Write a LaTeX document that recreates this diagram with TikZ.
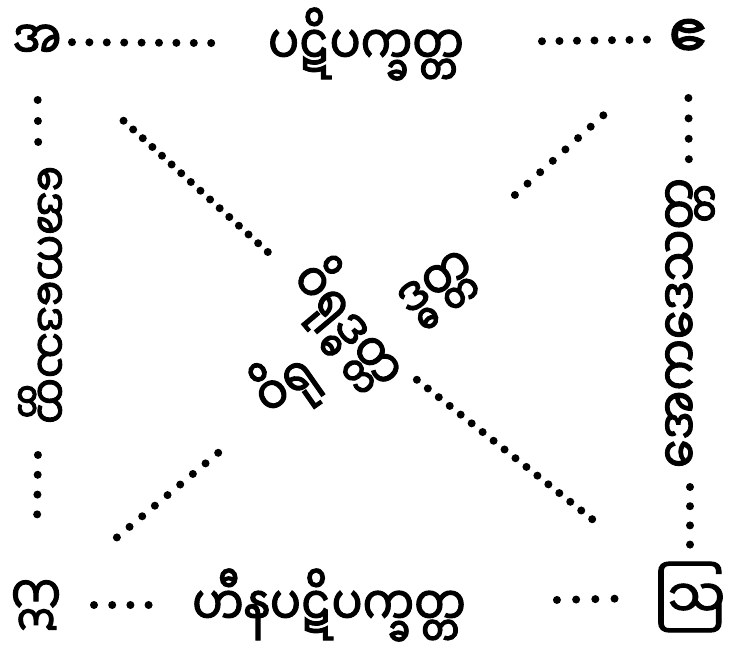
\documentclass[tikz,border=0pt]{standalone}
\usepackage{fontspec}
\newfontfamily\myanmarfont[Script=Myanmar, FakeBold=2, FakeStretch=0.85]{Noto Sans Myanmar UI}
\newfontfamily\myanmarwide[Script=Myanmar, FakeBold=2]{Noto Sans Myanmar UI}

\begin{document}
\begin{tikzpicture}[x=1pt,y=1pt,
    wordtext/.style={font=\myanmarfont\fontsize{54}{60}\selectfont, inner sep=0pt},
    dotrun/.style={line width=8pt, line cap=round, dash pattern=on 0pt off #1},
    dotrun/.default=18pt]

        % Page frame
        \useasboundingbox (0,0) rectangle (730,659);
        \fill[white] (0,0) rectangle (730,659);

        % Corner letters
        \node[wordtext] (cornerA) at (37,617) {အ};
        \node[wordtext, font=\myanmarwide\fontsize{62}{66}\selectfont] (cornerE) at (688,620) {ဧ};
        \node[wordtext] (cornerI) at (36,54) {ဣ};
        \node[wordtext, font=\myanmarwide\fontsize{53}{60}\selectfont] (cornerO) at (690,62) {ဩ};

        % Side words
        \node[wordtext] (topword) at (366,615) {ပဋိပက္ခတ္တ};
        \node[wordtext] (bottomword) at (329,54) {ဟီနပဋိပက္ခတ္တ};
        \node[wordtext, font=\myanmarfont\fontsize{48}{54}\selectfont, rotate=-90] (leftword) at (40,364) {အေကဒေသတ္တ};
        \node[wordtext, rotate=90] (rightword) at (690,336) {အေကဒေသတ္တ};

        % Crossing words in the middle
        \node[wordtext, rotate=-50] (diagdown) at (348,334) {ဝိရုဒ္ဓတ္တ};
        \node[wordtext, rotate=35] (diagup) at (364,328) {ဝိရု\hspace{110pt}ဒ္ဓတ္တ};

        % Dotted rows along the square
        \draw[dotrun=17.4pt, shorten <=35pt, shorten >=154pt] (cornerA.center) -- (topword.center);
        \draw[dotrun=17.5pt, shorten <=176pt, shorten >=40pt] (topword.center) -- (cornerE.center);
        \draw[dotrun=18.2pt, shorten <=58pt, shorten >=179pt] (cornerI.center) -- (bottomword.center);
        \draw[dotrun=19.2pt, shorten <=228pt, shorten >=74pt] (bottomword.center) -- (cornerO.center);
        \draw[dotrun=21pt, shorten <=58pt, shorten >=134pt] (cornerA.center) -- (leftword.center);
        \draw[dotrun=19.8pt, shorten <=160pt, shorten >=90pt] (leftword.center) -- (cornerI.center);
        \draw[dotrun=20.4pt, shorten <=59pt, shorten >=163pt] (cornerE.center) -- (rightword.center);
        \draw[dotrun=19.2pt, shorten <=164pt, shorten >=52pt] (rightword.center) -- (cornerO.center);

        % Dotted diagonals
        \draw[dotrun=13pt, shorten <=117pt, shorten >=104pt] (cornerA.center) -- (diagdown.center);
        \draw[dotrun=14pt, shorten <=88pt, shorten >=117pt] (diagdown.center) -- (cornerO.center);
        \draw[dotrun=17pt, shorten <=114pt, shorten >=192pt] (cornerE.center) -- (diagup.center);
        \draw[dotrun=16.5pt, shorten <=190pt, shorten >=101pt] (diagup.center) -- (cornerI.center);
\end{tikzpicture}
\end{document}
